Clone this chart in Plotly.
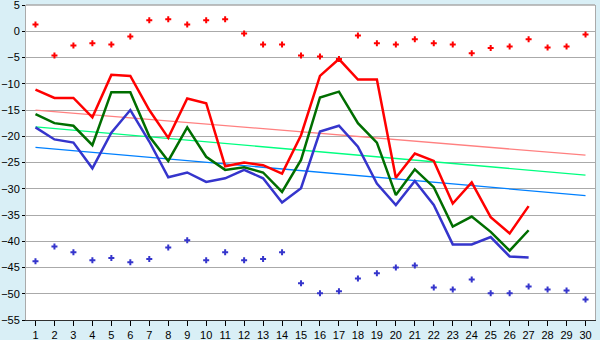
import plotly.graph_objects as go

# Days of the month
days = list(range(1, 31))
line_days = list(range(1, 28))

# Daily series (ends on day 27)
red_line = [-11.1, -12.7, -12.7, -16.4, -8.3, -8.5, -15.0, -20.3, -12.8, -13.7,
            -25.7, -25.0, -25.5, -27.1, -19.8, -8.5, -5.3, -9.2, -9.2, -27.9,
            -23.3, -24.7, -32.8, -28.8, -35.4, -38.5, -33.3]
green_line = [-15.8, -17.5, -18.0, -21.7, -11.6, -11.6, -20.0, -24.7, -18.3, -23.9,
              -26.4, -25.9, -26.9, -30.6, -24.5, -12.6, -11.5, -17.5, -21.2, -31.2,
              -26.3, -29.7, -37.2, -35.3, -38.2, -41.8, -37.9]
blue_line = [-18.3, -20.6, -21.2, -26.1, -19.3, -15.0, -21.0, -27.8, -26.9, -28.7,
             -28.0, -26.4, -28.0, -32.6, -29.9, -19.1, -18.0, -22.0, -29.0, -33.1,
             -28.5, -33.1, -40.6, -40.6, -39.2, -42.9, -43.1]

# Upper and lower extremes for each day
red_points = [1.3, -4.6, -2.7, -2.3, -2.5, -1.0, 2.1, 2.3, 1.3, 2.1,
              2.3, -0.4, -2.5, -2.5, -4.6, -4.8, -5.3, -0.8, -2.3, -2.5,
              -1.5, -2.3, -2.5, -4.2, -3.2, -2.9, -1.5, -3.1, -2.9, -0.6]
blue_points = [-43.8, -41.0, -42.1, -43.6, -43.2, -44.0, -43.4, -41.2, -39.8, -43.6,
               -42.1, -43.6, -43.4, -42.1, -48.0, -49.9, -49.5, -47.1, -46.1, -45.0,
               -44.6, -48.8, -49.2, -47.3, -49.9, -49.9, -48.6, -49.2, -49.4, -51.1]

# Trend lines (start and end of the month)
trend_days = [1, 30]
red_trend = [-15.0, -23.6]
green_trend = [-18.2, -27.4]
blue_trend = [-22.1, -31.3]

y_ticks = list(range(-55, 6, 5))
y_labels = [str(v).replace("-", "\u2212") for v in y_ticks]

fig = go.Figure()

for ys, col in [(red_trend, "#ff8080"), (green_trend, "#00ff80"), (blue_trend, "#0080ff")]:
    fig.add_trace(go.Scatter(x=trend_days, y=ys, mode="lines",
                             line=dict(color=col, width=1.3), hoverinfo="skip"))

for ys, col in [(red_line, "#ff0000"), (green_line, "#006e00"), (blue_line, "#3535cc")]:
    fig.add_trace(go.Scatter(x=line_days, y=ys, mode="lines",
                             line=dict(color=col, width=2.5)))

for ys, col in [(red_points, "#ff0000"), (blue_points, "#3535cc")]:
    fig.add_trace(go.Scatter(x=days, y=ys, mode="markers",
                             marker=dict(symbol="cross", size=5, color=col,
                                         line=dict(width=0))))

fig.update_layout(
    width=600, height=340,
    margin=dict(l=26, r=5, t=5, b=20),
    paper_bgcolor="#d9eff6",
    plot_bgcolor="#ffffff",
    showlegend=False,
    font=dict(family="Liberation Sans, Arial, sans-serif", size=11, color="#000000"),
    # gray frame along the top edge of the plot area
    shapes=[dict(type="line", xref="paper", yref="paper", x0=0, x1=1, y0=1, y1=1,
                 line=dict(color="#aaaaaa", width=1.5))],
)
fig.update_xaxes(
    range=[0.5, 30.5], tickvals=days, ticktext=[str(d) for d in days],
    showgrid=False, zeroline=False, automargin=False,
    showline=True, linecolor="#303030", linewidth=1,
    ticks="outside", ticklen=5, tickcolor="#000000", tickwidth=1,
)
fig.update_yaxes(
    range=[-55, 5.01], tickvals=y_ticks, ticktext=y_labels,
    showgrid=True, gridcolor="#aaaaaa", gridwidth=1, zeroline=False, automargin=False,
    showline=True, linecolor="#aaaaaa", linewidth=1, mirror=True,
    ticks="outside", ticklen=3, tickcolor="#000000", tickwidth=1,
    ticklabeloverflow="allow",
)

fig.write_html("out.html")
